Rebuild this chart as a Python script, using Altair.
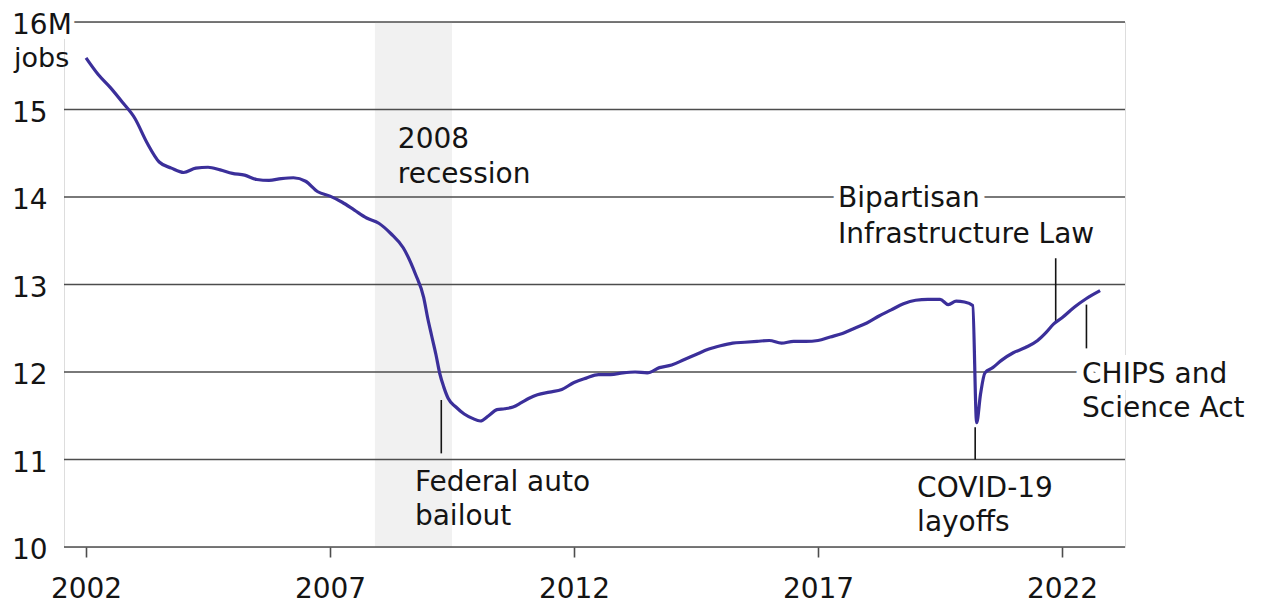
import altair as alt
import pandas as pd

# ---- data ----
years = [2002.00, 2002.25, 2002.50, 2002.75, 2003.00, 2003.25, 2003.50, 2003.75,
         2004.00, 2004.25, 2004.50, 2004.75, 2005.00, 2005.25, 2005.50, 2005.75,
         2006.00, 2006.25, 2006.50, 2006.75, 2007.00, 2007.25, 2007.50, 2007.75,
         2008.00, 2008.25, 2008.50, 2008.75, 2008.92, 2009.00, 2009.08, 2009.17,
         2009.25, 2009.33, 2009.42, 2009.58, 2009.75, 2009.92, 2010.08, 2010.25,
         2010.42, 2010.58, 2010.75, 2010.92, 2011.08, 2011.25, 2011.50, 2011.75,
         2012.00, 2012.25, 2012.50, 2012.75, 2013.00, 2013.25, 2013.50, 2013.75,
         2014.00, 2014.25, 2014.50, 2014.75, 2015.00, 2015.25, 2015.50, 2015.75,
         2016.00, 2016.25, 2016.50, 2016.75, 2017.00, 2017.25, 2017.50, 2017.75,
         2018.00, 2018.25, 2018.50, 2018.75, 2019.00, 2019.25, 2019.50, 2019.67,
         2019.83, 2020.00, 2020.17, 2020.25, 2020.33, 2020.42, 2020.58, 2020.75,
         2021.00, 2021.25, 2021.50, 2021.67, 2021.83, 2022.00, 2022.25, 2022.50,
         2022.78]
jobs = [15.59, 15.40, 15.25, 15.08, 14.90, 14.62, 14.40, 14.33,
        14.28, 14.33, 14.34, 14.31, 14.27, 14.25, 14.20, 14.19,
        14.21, 14.22, 14.18, 14.06, 14.01, 13.94, 13.85, 13.76,
        13.70, 13.58, 13.42, 13.12, 12.85, 12.62, 12.42, 12.20,
        11.98, 11.83, 11.70, 11.60, 11.52, 11.47, 11.44, 11.50,
        11.57, 11.58, 11.60, 11.65, 11.70, 11.74, 11.77, 11.80,
        11.88, 11.93, 11.97, 11.97, 11.99, 12.00, 11.99, 12.05,
        12.08, 12.14, 12.20, 12.26, 12.30, 12.33, 12.34, 12.35,
        12.36, 12.33, 12.35, 12.35, 12.36, 12.40, 12.44, 12.50,
        12.56, 12.64, 12.71, 12.78, 12.82, 12.83, 12.83, 12.77,
        12.81, 12.80, 12.76, 11.42, 11.75, 11.99, 12.05, 12.13,
        12.22, 12.28, 12.36, 12.45, 12.55, 12.62, 12.74, 12.84,
        12.93]

y_ticks = [10, 11, 12, 13, 14, 15, 16]
x_ticks = [2002, 2007, 2012, 2017, 2022]

recession_start = [2007.92]
recession_end = [2009.50]

event_names = ["Federal auto bailout", "COVID-19 layoffs",
               "Bipartisan Infrastructure Law", "CHIPS and Science Act"]
event_dates = [2009.28, 2020.22, 2021.87, 2022.50]
event_tick_top = [11.68, 11.37, 13.30, 12.77]
event_tick_bottom = [11.07, 11.00, 12.57, 12.27]

label_lines = ["2008", "recession", "Federal auto", "bailout", "COVID-19", "layoffs",
               "Bipartisan", "Infrastructure Law", "CHIPS and", "Science Act"]
label_x = [2008.39, 2008.39, 2008.74, 2008.74, 2019.03, 2019.03,
           2017.41, 2017.41, 2022.41, 2022.41]
label_y = [14.56, 14.16, 10.64, 10.25, 10.57, 10.18,
           13.89, 13.47, 11.87, 11.49]
label_halo = [False, False, False, False, False, False,
              True, False, True, False]

# ---- tables ----
series = pd.DataFrame({"year": years, "jobs": jobs})
grid = pd.DataFrame({"v": y_ticks,
                     "lab": [("16M" if v == 16 else str(v)) for v in y_ticks]})
rec = pd.DataFrame({"s": recession_start, "e": recession_end})
events = pd.DataFrame({"name": event_names, "date": event_dates,
                       "top": event_tick_top, "bottom": event_tick_bottom})
labels = pd.DataFrame({"text": label_lines, "x": label_x, "y": label_y,
                       "halo": label_halo})

W, H = 1061, 525
FONT = "DejaVu Sans"
INK = "#141414"
GRID = "#4d4d4d"
LINE = "#3b2f9a"

xs = alt.Scale(domain=[2001.549, 2023.29], nice=False, zero=False)
ys = alt.Scale(domain=[10, 16], nice=False, zero=False)
xaxis = alt.Axis(values=x_ticks, format="d", domain=False, grid=False,
                 ticks=True, tickSize=10, tickColor=GRID, tickWidth=1.6,
                 labelFont=FONT, labelFontSize=28, labelColor=INK,
                 labelPadding=18, labelFlush=False, title=None)

shade = alt.Chart(rec).mark_rect(color="#f1f1f1").encode(
    x=alt.X("s:Q", scale=xs, axis=xaxis, title=None),
    x2="e:Q",
    y=alt.value(0),
    y2=alt.value(H),
)

gridlines = alt.Chart(grid).mark_rule(color=GRID, strokeWidth=1.6).encode(
    y=alt.Y("v:Q", scale=ys, axis=None),
    x=alt.value(0),
    x2=alt.value(W),
)

ylab_halo = alt.Chart(grid).transform_filter("datum.v == 16").mark_text(
    align="left", baseline="middle", dy=4, font=FONT, fontSize=28,
    color="white", stroke="white", strokeWidth=10,
).encode(y=alt.Y("v:Q", scale=ys, axis=None), x=alt.value(-52), text="lab:N")

ylabels = alt.Chart(grid).mark_text(
    align="left", baseline="middle", dy=4, font=FONT, fontSize=28, color=INK,
).encode(y=alt.Y("v:Q", scale=ys, axis=None), x=alt.value(-52), text="lab:N")

jobs_lab = alt.Chart(grid).transform_filter("datum.v == 16").mark_text(
    align="left", baseline="alphabetic", dy=45, font=FONT, fontSize=27, color=INK,
    text="jobs",
).encode(y=alt.Y("v:Q", scale=ys, axis=None), x=alt.value(-50))

lab_halo = alt.Chart(labels).transform_filter("datum.halo").mark_text(
    align="left", baseline="alphabetic", font=FONT, fontSize=28,
    color="white", stroke="white", strokeWidth=14,
).encode(x=alt.X("x:Q", scale=xs, axis=xaxis, title=None),
         y=alt.Y("y:Q", scale=ys, axis=None), text="text:N")

lab_text = alt.Chart(labels).mark_text(
    align="left", baseline="alphabetic", font=FONT, fontSize=28, color=INK,
).encode(x=alt.X("x:Q", scale=xs, axis=xaxis, title=None),
         y=alt.Y("y:Q", scale=ys, axis=None), text="text:N")

ticks = alt.Chart(events).mark_rule(color=INK, strokeWidth=1.6).encode(
    x=alt.X("date:Q", scale=xs, axis=xaxis, title=None),
    y=alt.Y("top:Q", scale=ys, axis=None),
    y2="bottom:Q",
)

line = alt.Chart(series).mark_line(color=LINE, strokeWidth=3.2,
                                   interpolate="monotone").encode(
    x=alt.X("year:Q", scale=xs, axis=xaxis, title=None),
    y=alt.Y("jobs:Q", scale=ys, axis=None),
)

chart = alt.layer(
    shade, gridlines, ylab_halo, ylabels, jobs_lab, lab_halo, lab_text, ticks, line
).properties(
    width=W, height=H,
    padding={"left": 56, "top": 14, "right": 124, "bottom": 60},
    autosize=alt.AutoSizeParams(type="none"),
).configure_view(stroke=None).configure(background="white")

chart.save("out.html", embed_options={"renderer": "svg", "actions": False})
